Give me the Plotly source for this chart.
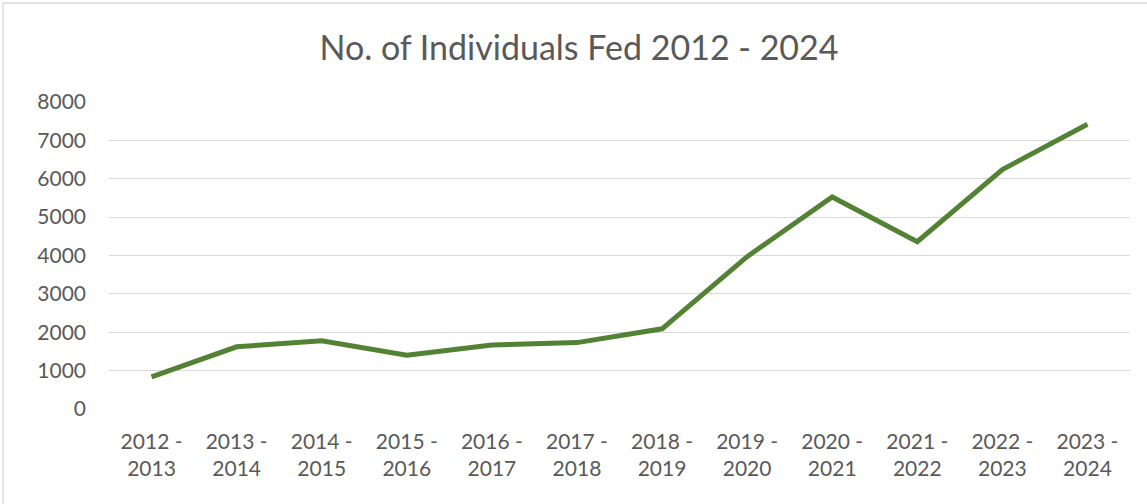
import plotly.graph_objects as go

# Season labels and people fed per season
seasons = ["2012 - 2013", "2013 - 2014", "2014 - 2015", "2015 - 2016",
           "2016 - 2017", "2017 - 2018", "2018 - 2019", "2019 - 2020",
           "2020 - 2021", "2021 - 2022", "2022 - 2023", "2023 - 2024"]
individuals_fed = [840, 1620, 1775, 1400, 1670, 1730, 2090, 3970, 5525, 4360, 6240, 7420]
y_ticks = [0, 1000, 2000, 3000, 4000, 5000, 6000, 7000, 8000]

W, H = 1147, 504
L, R, T, B = 109, 17, 102, 95
FONT = "Lato"
GREY_TEXT = "#595959"
GRID = "#d9d9d9"

# two-line category labels ("2012 -" over "2013")
tick_text = [s.replace(" - ", " -<br>") for s in seasons]

fig = go.Figure(
    go.Scatter(
        x=seasons,
        y=individuals_fed,
        mode="lines",
        line=dict(color="#548235", width=5),
        hoverinfo="x+y",
    )
)

def px_to_paper_x(px):
    return (px - L) / (W - L - R)

def px_to_paper_y(py):
    return (H - B - py) / (H - T - B)

fig.update_layout(
    width=W,
    height=H,
    margin=dict(l=L, r=R, t=T, b=B, pad=0, autoexpand=False),
    paper_bgcolor="white",
    plot_bgcolor="white",
    showlegend=False,
    font=dict(family=FONT, color=GREY_TEXT, size=21),
    title=dict(
        text="No. of Individuals Fed 2012 - 2024",
        font=dict(family=FONT, size=34, color=GREY_TEXT),
        x=579 / W,
        xref="container",
        xanchor="center",
        y=1 - 48 / H,
        yref="container",
        yanchor="middle",
    ),
    xaxis=dict(
        type="category",
        range=[-0.5, len(seasons) - 0.5],
        tickmode="array",
        tickvals=seasons,
        ticktext=tick_text,
        showgrid=False,
        showline=False,
        zeroline=False,
        ticks="",
        automargin=False,
        ticklabelstandoff=18,
        tickfont=dict(family=FONT, size=21, color=GREY_TEXT),
    ),
    yaxis=dict(
        range=[0, 8000],
        tickmode="array",
        tickvals=y_ticks,
        showgrid=True,
        gridcolor=GRID,
        gridwidth=1.3,
        zeroline=False,
        showline=False,
        ticks="",
        automargin=False,
        ticklabelstandoff=22,
        tickfont=dict(family=FONT, size=21, color=GREY_TEXT),
    ),
    shapes=[
        # chart-area border (left and top edges fall inside the canvas)
        dict(
            type="rect",
            xref="paper", yref="paper",
            x0=px_to_paper_x(3), x1=px_to_paper_x(W + 20),
            y0=px_to_paper_y(H + 20), y1=px_to_paper_y(3),
            line=dict(color=GRID, width=1.3),
            fillcolor="rgba(0,0,0,0)",
            layer="below",
        )
    ],
)

fig.write_html("out.html")
